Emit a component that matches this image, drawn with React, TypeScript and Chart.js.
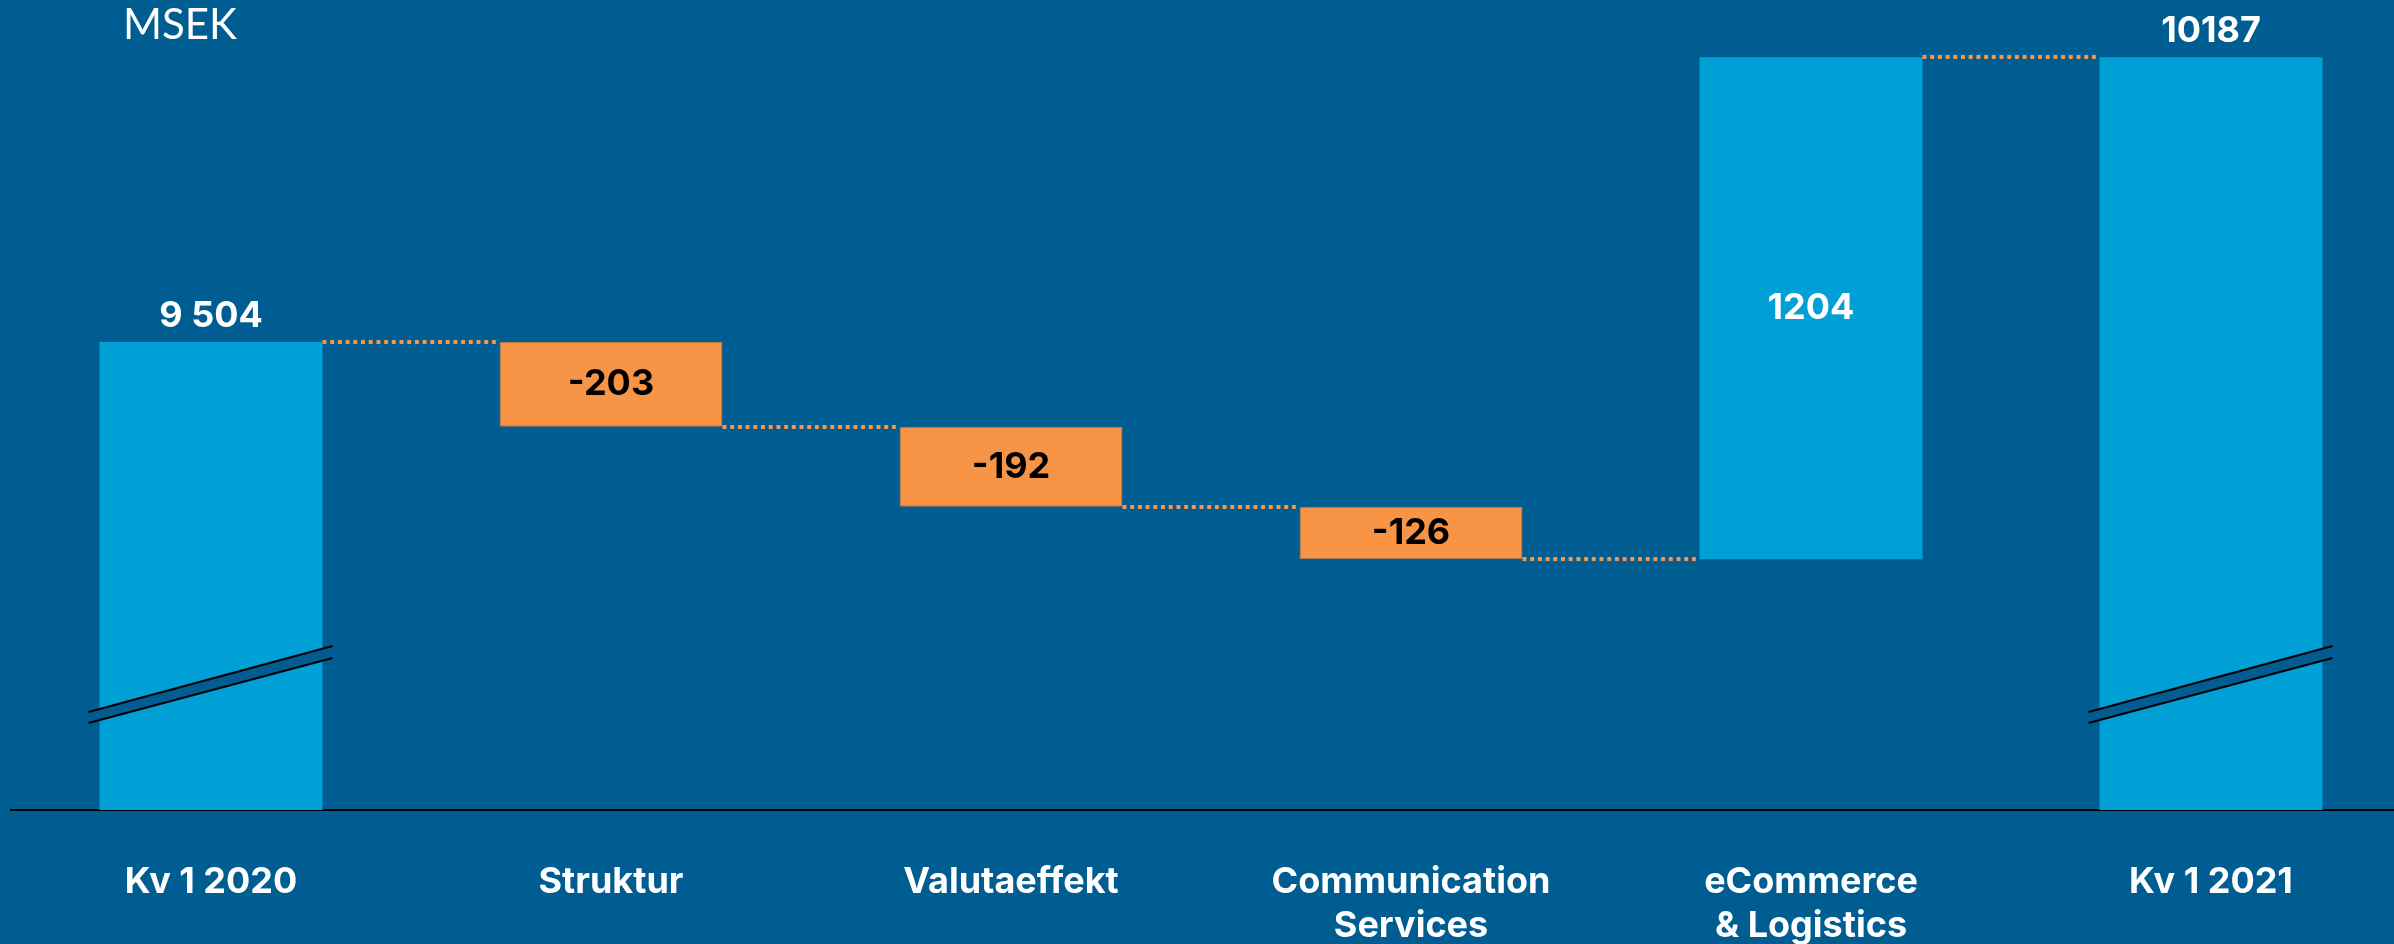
import React, { useEffect, useRef } from 'react';
import { Chart, registerables } from 'chart.js';

Chart.register(...registerables);

// ---- data ----
const categories: string[][] = [
  ['Kv 1 2020'],
  ['Struktur'],
  ['Valutaeffekt'],
  ['Communication', 'Services'],
  ['eCommerce', '& Logistics'],
  ['Kv 1 2021'],
];
const startTotal = 9504;
const changes = [-203, -192, -126, 1204];
const endTotal = 10187;
const valueLabels = ['9 504', '-203', '-192', '-126', '1204', '10187'];
const unitLabel = 'MSEK';
const yMin = 8382;
const yMax = 10324;
const totalIndices = [0, 5];

// ---- styles ----
const BG = '#005D92';
const BLUE = '#00A0D6';
const ORANGE = '#F79445';
const W = 2394;
const H = 944;
const FONT = 'Inter, "Noto Sans", sans-serif';

// waterfall ranges built from the data above
const ranges: (number | [number, number])[] = [startTotal];
const levels: number[] = [startTotal];
let run = startTotal;
changes.forEach((c) => {
  const next = run + c;
  ranges.push([Math.min(run, next), Math.max(run, next)]);
  run = next;
  levels.push(run);
});
ranges.push(endTotal);

const barColors = ranges.map((r, i) =>
  totalIndices.includes(i) ? BLUE : changes[i - 1] < 0 ? ORANGE : BLUE
);
const borderWidths = ranges.map((r, i) =>
  !totalIndices.includes(i) && changes[i - 1] < 0 ? 1 : 0
);

const bgPlugin = {
  id: 'bg',
  beforeDraw(chart: any) {
    const { ctx, width, height } = chart;
    ctx.save();
    ctx.fillStyle = BG;
    ctx.fillRect(0, 0, width, height);
    ctx.restore();
  },
};

const decoPlugin = {
  id: 'deco',
  afterDatasetsDraw(chart: any) {
    const { ctx, chartArea } = chart;
    const meta = chart.getDatasetMeta(0);
    const yScale = chart.scales.y;
    const bars = meta.data;

    ctx.save();
    // connectors
    ctx.strokeStyle = ORANGE;
    ctx.lineWidth = 4;
    ctx.setLineDash([4, 3.7]);
    for (let i = 0; i < levels.length; i++) {
      const a = bars[i];
      const b = bars[i + 1];
      if (!a || !b) continue;
      const y = Math.round(yScale.getPixelForValue(levels[i]));
      ctx.beginPath();
      ctx.moveTo(a.x + a.width / 2, y);
      ctx.lineTo(b.x - b.width / 2, y);
      ctx.stroke();
    }
    ctx.setLineDash([]);

    // axis-break marks
    totalIndices.forEach((i) => {
      const bar = bars[i];
      if (!bar) return;
      const x1 = bar.x - bar.width / 2 - 11;
      const x2 = bar.x + bar.width / 2 + 10;
      const bottom = chartArea.bottom;
      const yl1 = bottom - 98;
      const yr1 = bottom - 164;
      const yl2 = bottom - 87;
      const yr2 = bottom - 152;
      ctx.fillStyle = BG;
      ctx.beginPath();
      ctx.moveTo(x1, yl1);
      ctx.lineTo(x2, yr1);
      ctx.lineTo(x2, yr2);
      ctx.lineTo(x1, yl2);
      ctx.closePath();
      ctx.fill();
      ctx.strokeStyle = '#000';
      ctx.lineWidth = 2.2;
      ctx.beginPath();
      ctx.moveTo(x1, yl1);
      ctx.lineTo(x2, yr1);
      ctx.moveTo(x1, yl2);
      ctx.lineTo(x2, yr2);
      ctx.stroke();
    });

    // value labels
    ctx.font = `700 36px ${FONT}`;
    ctx.textAlign = 'center';
    bars.forEach((bar: any, i: number) => {
      const top = Math.min(bar.y, bar.base);
      const bottom = Math.max(bar.y, bar.base);
      if (totalIndices.includes(i)) {
        ctx.fillStyle = '#fff';
        ctx.textBaseline = 'alphabetic';
        ctx.fillText(valueLabels[i], bar.x, top - 15);
      } else {
        ctx.fillStyle = changes[i - 1] < 0 ? '#000' : '#fff';
        ctx.textBaseline = 'middle';
        ctx.fillText(valueLabels[i], bar.x, (top + bottom) / 2);
      }
    });

    // unit label
    ctx.font = `400 42px Lato, ${FONT}`;
    ctx.fillStyle = '#fff';
    ctx.textAlign = 'left';
    ctx.textBaseline = 'alphabetic';
    ctx.fillText(unitLabel, 123, 39);
    ctx.restore();
  },
};

export default function App() {
  const ref = useRef<HTMLCanvasElement | null>(null);

  useEffect(() => {
    document.body.style.margin = '0';
    document.body.style.background = BG;
    if (!ref.current) return;
    const chart = new Chart(ref.current, {
      type: 'bar',
      data: {
        datasets: [
          {
            data: ranges.map((y, i) => ({ x: i, y })) as any,
            backgroundColor: barColors,
            borderColor: '#C27A44',
            borderWidth: borderWidths,
            borderSkipped: false,
            barPercentage: 0.5575,
            categoryPercentage: 1,
          },
        ],
      },
      options: {
        animation: false,
        responsive: false,
        devicePixelRatio: 1,
        layout: { padding: { left: 11, right: 0, top: 0, bottom: 0 } },
        plugins: {
          legend: { display: false },
          tooltip: { enabled: false },
          title: { display: false },
        },
        scales: {
          x: {
            type: 'linear',
            offset: false,
            min: -0.5,
            max: -0.5 + (W - 11) / 400,
            z: 1,
            grid: { display: false, drawTicks: false },
            border: { display: true, color: '#000', width: 2 },
            afterBuildTicks: (scale: any) => {
              scale.ticks = categories.map((_, i) => ({ value: i }));
            },
            afterFit: (scale: any) => {
              scale.height = 134;
            },
            ticks: {
              autoSkip: false,
              maxRotation: 0,
              minRotation: 0,
              padding: 51,
              color: '#fff',
              font: { family: FONT, size: 36, weight: 'bold', lineHeight: 1.2 },
              callback: (v: any) => categories[Math.round(Number(v))] ?? '',
            },
          },
          y: {
            type: 'linear',
            display: false,
            min: yMin,
            max: yMax,
            beginAtZero: false,
          },
        },
      } as any,
      plugins: [bgPlugin, decoPlugin],
    });
    return () => chart.destroy();
  }, []);

  return (
    <div style={{ width: W, height: H, background: BG }}>
      <canvas ref={ref} width={W} height={H} style={{ display: 'block' }} />
    </div>
  );
}
